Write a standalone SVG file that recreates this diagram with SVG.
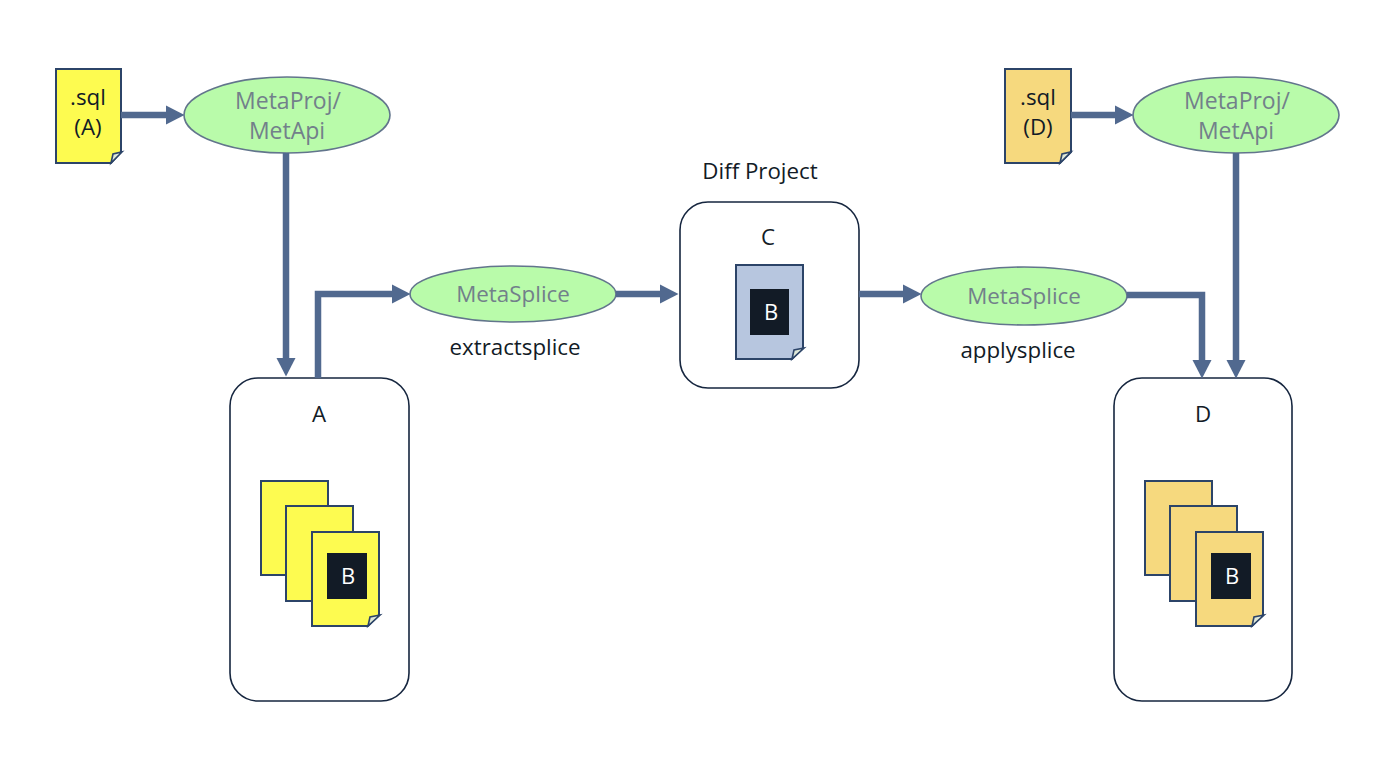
<svg xmlns="http://www.w3.org/2000/svg" width="1400" height="768" viewBox="0 0 1400 768">
<style>
text{font-family:"Open Sans","Noto Sans","Liberation Sans",sans-serif;text-anchor:middle;font-size:22.3px;fill:#121b26}
.e{fill:#b9fbaa;stroke:#62758c;stroke-width:1.6}
text.e2{fill:#72808a;font-size:22.4px}
text.e3{fill:#72808a;font-size:23px}
.c{fill:#fff;stroke:#16263f;stroke-width:1.6}
.y{fill:#fdfb50;stroke:#2c4468;stroke-width:2}
.o{fill:#f6d97e;stroke:#2c4468;stroke-width:2}
.b{fill:#b7c6df;stroke:#2c4468;stroke-width:2}
.k{fill:#121b26}
text.w{fill:#fff;font-size:22px}
.f{fill:#dfe8d8;stroke:#2c4468;stroke-width:1.6}
.l{fill:none;stroke:#51698f;stroke-width:6.5}
</style>
<defs>
<marker id="a" markerUnits="userSpaceOnUse" markerWidth="22" markerHeight="22" refX="6" refY="11" orient="auto"><path d="M0 1.5L18.5 11L0 20.5Z" fill="#51698f"/></marker>
</defs>
<g id="container-A"><rect class="c" x="230" y="378" width="179" height="323" rx="28"/><text x="319" y="422">A</text></g>
<g id="container-C"><rect class="c" x="680" y="202" width="179" height="186" rx="28"/><text x="768" y="245">C</text></g>
<g id="container-D"><rect class="c" x="1114" y="378" width="178" height="323" rx="28"/><text x="1203" y="422">D</text></g>
<g id="sql-A"><path class="y" d="M56 69H121V152L111 163H56Z"/><path class="f" d="M111 163L113 154L122 152Z"/><text x="88" y="105">.sql</text><text x="88" y="135">(A)</text></g>
<g id="sql-D"><path class="o" d="M1005 69H1071V152L1060 163H1005Z"/><path class="f" d="M1060 163L1062 154L1071 152Z"/><text x="1038" y="105">.sql</text><text x="1038" y="135">(D)</text></g>
<g id="metaproj-A"><ellipse class="e" cx="287" cy="115" rx="103" ry="38"/><text class="e3" x="288" y="109">MetaProj/</text><text class="e3" x="287" y="139">MetApi</text></g>
<g id="metaproj-D"><ellipse class="e" cx="1236" cy="115" rx="103" ry="38"/><text class="e3" x="1237" y="109">MetaProj/</text><text class="e3" x="1236" y="139">MetApi</text></g>
<g id="metasplice-1"><ellipse class="e" cx="513" cy="294" rx="103" ry="28"/><text class="e2" x="513" y="302">MetaSplice</text></g>
<g id="metasplice-2"><ellipse class="e" cx="1024" cy="296" rx="103" ry="29"/><text class="e2" x="1024" y="304">MetaSplice</text></g>
<g id="docs-A"><rect class="y" x="261" y="481" width="67" height="94"/><rect class="y" x="286" y="506" width="67" height="95"/><path class="y" d="M312 532H379V615L368 626H312Z"/><path class="f" d="M368 626L370 617L380 615Z"/><rect class="k" x="327" y="553" width="40" height="46"/><text class="w" x="348" y="584">B</text></g>
<g id="doc-C"><path class="b" d="M736 265H803V348L792 359H736Z"/><path class="f" d="M792 359L794 350L804 348Z"/><rect class="k" x="750" y="289" width="39" height="46"/><text class="w" x="771" y="320">B</text></g>
<g id="docs-D"><rect class="o" x="1145" y="481" width="67" height="94"/><rect class="o" x="1170" y="506" width="67" height="95"/><path class="o" d="M1196 532H1263V615L1252 626H1196Z"/><path class="f" d="M1252 626L1254 617L1264 615Z"/><rect class="k" x="1211" y="553" width="40" height="46"/><text class="w" x="1232" y="584">B</text></g>
<g id="labels"><text x="760" y="179">Diff Project</text><text x="515" y="355">extractsplice</text><text x="1018" y="358">applysplice</text></g>
<g id="connectors">
<path class="l" marker-end="url(#a)" d="M121 115H172"/>
<path class="l" marker-end="url(#a)" d="M286 153V364"/>
<path class="l" marker-end="url(#a)" d="M318 378V294H398"/>
<path class="l" marker-end="url(#a)" d="M616 294H666"/>
<path class="l" marker-end="url(#a)" d="M859 294H909"/>
<path class="l" marker-end="url(#a)" d="M1071 115H1121"/>
<path class="l" marker-end="url(#a)" d="M1127 295H1202V366"/>
<path class="l" marker-end="url(#a)" d="M1236 153V366"/>
</g>
</svg>
